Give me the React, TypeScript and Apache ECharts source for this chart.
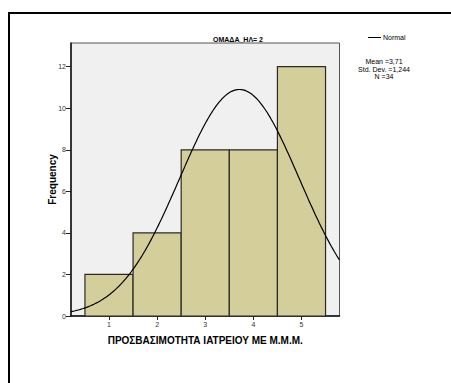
import React, { useEffect, useRef } from "react";
import * as echarts from "echarts";

// Histogram bins (lower edge, upper edge) and their counts
const binStarts = [0.5, 1.5, 2.5, 3.5, 4.5];
const binEnds = [1.5, 2.5, 3.5, 4.5, 5.5];
const counts = [2, 4, 8, 8, 12];

// Axis ticks
const xTicks = [1, 2, 3, 4, 5];
const yTicks = [0, 2, 4, 6, 8, 10, 12];

// Summary statistics shown in the legend
const mean = 3.71;
const stdDev = 1.244;
const n = 34;

const xMin = 0.21;
const xMax = 5.79;
const yMax = 13.14;

const FONT = "Arial, 'Liberation Sans', sans-serif";

// Fitted normal curve scaled to counts (bin width 1)
function normalCurve(): number[][] {
  const pts: number[][] = [];
  const steps = 200;
  const scale = n * 1;
  for (let i = 0; i <= steps; i++) {
    const x = xMin + ((xMax - xMin) * i) / steps;
    const z = (x - mean) / stdDev;
    const y = (scale / (stdDev * Math.sqrt(2 * Math.PI))) * Math.exp(-0.5 * z * z);
    pts.push([x, y]);
  }
  return pts;
}

export default function App() {
  const ref = useRef<HTMLDivElement>(null);

  useEffect(() => {
    if (!ref.current) return;
    const chart = echarts.init(ref.current, null, { renderer: "svg" });
    const bars = binStarts.map((s, i) => [s, binEnds[i], counts[i]]);

    chart.setOption({
      animation: false,
      backgroundColor: "#ffffff",
      grid: {
        left: 71,
        top: 43,
        right: 111.5,
        bottom: 67,
        show: true,
        backgroundColor: "#f0f0f0",
        borderColor: "#555555",
        borderWidth: 1,
      },
      xAxis: {
        type: "value",
        min: xMin,
        max: xMax,
        splitLine: { show: false },
        axisLine: { show: true, onZero: false, lineStyle: { color: "#111", width: 1.5 } },
        axisTick: {
          show: true,
          length: 4,
          lineStyle: { color: "#222" },
          customValues: xTicks,
        },
        axisLabel: {
          fontSize: 7,
          fontFamily: FONT,
          color: "#333",
          margin: 5,
          customValues: xTicks,
        },
        name: "ΠΡΟΣΒΑΣΙΜΟΤΗΤΑ ΙΑΤΡΕΙΟΥ ΜΕ Μ.Μ.Μ.",
        nameLocation: "middle",
        nameGap: 19,
        nameMoveOverlap: false,
        nameTextStyle: { fontSize: 10, fontWeight: "bold", fontFamily: FONT, color: "#000" },
      },
      yAxis: {
        type: "value",
        min: 0,
        max: yMax,
        splitLine: { show: false },
        axisLine: { show: true, lineStyle: { color: "#111", width: 1.5 } },
        axisTick: {
          show: true,
          length: 5,
          lineStyle: { color: "#222" },
          customValues: yTicks,
        },
        axisLabel: {
          fontSize: 7,
          fontFamily: FONT,
          color: "#333",
          margin: 5,
          customValues: yTicks,
        },
        name: "Frequency",
        nameLocation: "middle",
        nameGap: 14,
        nameMoveOverlap: false,
        nameTextStyle: { fontSize: 10, fontWeight: "bold", fontFamily: FONT, color: "#000" },
      },
      series: [
        {
          type: "custom",
          data: bars,
          encode: { x: [0, 1], y: 2 },
          renderItem: (params: any, api: any) => {
            const p0 = api.coord([api.value(0), api.value(2)]);
            const p1 = api.coord([api.value(1), 0]);
            return {
              type: "rect",
              shape: { x: p0[0], y: p0[1], width: p1[0] - p0[0], height: p1[1] - p0[1] },
              style: { fill: "#d3ce9a", stroke: "#2a2a2a", lineWidth: 1.2 },
            };
          },
          z: 2,
        },
        {
          type: "line",
          data: normalCurve(),
          showSymbol: false,
          symbol: "none",
          lineStyle: { color: "#000", width: 1.2 },
          z: 3,
          clip: true,
        },
      ],
      graphic: [
        {
          type: "rect",
          shape: { x: 9, y: 13, width: 600, height: 600 },
          style: { fill: "none", stroke: "#000", lineWidth: 2 },
          silent: true,
        },
        {
          type: "text",
          x: 238,
          y: 39,
          style: {
            text: "ΟΜΑΔΑ_ΗΛ= 2",
            fontSize: 7,
            fontWeight: "bold",
            fontFamily: FONT,
            fill: "#000",
            align: "center",
            verticalAlign: "middle",
          },
        },
        {
          type: "line",
          shape: { x1: 368, y1: 37.5, x2: 381, y2: 37.5 },
          style: { stroke: "#000", lineWidth: 1 },
        },
        {
          type: "text",
          x: 383,
          y: 37.5,
          style: {
            text: "Normal",
            fontSize: 7,
            fontFamily: FONT,
            fill: "#000",
            align: "left",
            verticalAlign: "middle",
          },
        },
        {
          type: "text",
          x: 384,
          y: 58,
          style: {
            text: `Mean =${mean.toFixed(2).replace(".", ",")}\nStd. Dev. =${stdDev
              .toFixed(3)
              .replace(".", ",")}\nN =${n}`,
            fontSize: 7,
            lineHeight: 7.4,
            fontFamily: FONT,
            fill: "#000",
            align: "center",
            verticalAlign: "top",
          },
        },
      ],
    });
    return () => chart.dispose();
  }, []);

  return (
    <div
      ref={ref}
      style={{ position: "fixed", left: 0, top: 0, width: 451, height: 383 }}
    />
  );
}
